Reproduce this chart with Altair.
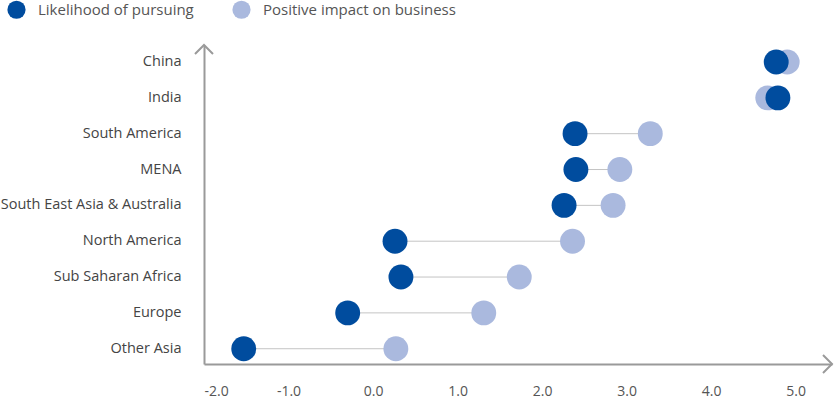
import altair as alt
import pandas as pd

regions = ["China", "India", "South America", "MENA", "South East Asia & Australia",
           "North America", "Sub Saharan Africa", "Europe", "Other Asia"]
likelihood = [4.77, 4.79, 2.39, 2.40, 2.26, 0.26, 0.33, -0.30, -1.53]
impact = [4.90, 4.67, 3.28, 2.92, 2.84, 2.36, 1.73, 1.31, 0.27]
series_names = ["Likelihood of pursuing", "Positive impact on business"]
series_colors = ["#004c9e", "#aab9de"]
x_ticks = [-2, -1, 0, 1, 2, 3, 4, 5]

wide = pd.DataFrame({"region": regions, "likelihood": likelihood, "impact": impact})
long = pd.concat([
    pd.DataFrame({"region": regions, "value": impact, "series": series_names[1], "z": 0}),
    pd.DataFrame({"region": regions, "value": likelihood, "series": series_names[0], "z": 1}),
], ignore_index=True)

W, H = 628, 319
xscale = alt.Scale(domain=[-2, 5.43], nice=False, zero=False)
yscale = alt.Scale(type="band", domain=regions, paddingInner=0.5, paddingOuter=0.2, align=0.56)

FONT = "Open Sans"

x_axis = alt.Axis(values=x_ticks, format=".1f", title=None, grid=False, ticks=False,
                  domainColor="#9a9a9a", domainWidth=2, labelPadding=20, labelFontSize=14,
                  labelColor="#555555", labelFont=FONT, labelFlush=True,
                  labelExpr="replace(datum.label, '\u2212', '-')")
y_axis = alt.Axis(title=None, grid=False, ticks=False, domainColor="#9a9a9a", domainWidth=2,
                  labelPadding=23, labelFontSize=14.5, labelColor="#444444", labelFont=FONT,
                  labelLimit=300)

rules = alt.Chart(wide).mark_rule(color="#c4c4c4", strokeWidth=1).encode(
    y=alt.Y("region:N", scale=yscale, axis=y_axis, sort=regions),
    x=alt.X("likelihood:Q", scale=xscale, axis=x_axis),
    x2="impact:Q",
)

points = alt.Chart(long).mark_circle(size=620, opacity=1).encode(
    y=alt.Y("region:N", scale=yscale, sort=regions),
    x=alt.X("value:Q", scale=xscale),
    color=alt.Color("series:N", scale=alt.Scale(domain=series_names, range=series_colors),
                    legend=alt.Legend(title=None, orient="none", legendX=-197, legendY=-45,
                                      direction="horizontal", symbolType="circle", symbolSize=330,
                                      symbolStrokeWidth=0, labelFontSize=15, labelFont=FONT,
                                      labelColor="#555555", labelOffset=12, columnPadding=38,
                                      labelLimit=400, padding=0)),
    order=alt.Order("z:Q"),
)

arrow_df = pd.DataFrame({"a": [0]})
y_arrow = alt.Chart(arrow_df).mark_point(shape="M-1,1L0,0L1,1", size=324, filled=False,
                                         stroke="#9a9a9a", strokeWidth=2, opacity=1).encode(
    x=alt.value(0), y=alt.value(0))
x_arrow = alt.Chart(arrow_df).mark_point(shape="M-1,-1L0,0L-1,1", size=324, filled=False,
                                         stroke="#9a9a9a", strokeWidth=2, opacity=1).encode(
    x=alt.value(W), y=alt.value(H))

chart = alt.layer(rules, points, y_arrow, x_arrow).properties(
    width=W, height=H,
    autosize=alt.AutoSizeParams(type="none"),
    padding={"left": 204, "top": 45, "right": 8, "bottom": 36},
    background="white",
).configure_view(stroke=None)

chart.save("out.html", embed_options={"renderer": "svg", "actions": False})
